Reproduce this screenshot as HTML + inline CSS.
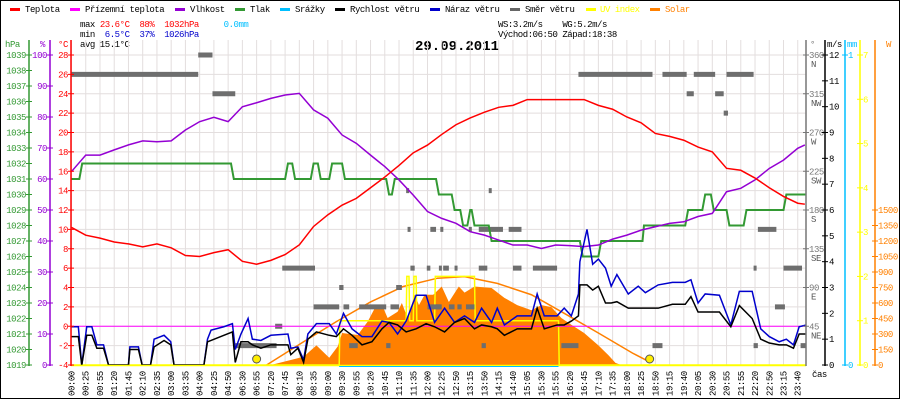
<!DOCTYPE html>
<html><head><meta charset="utf-8"><style>
html,body{margin:0;padding:0;background:#fff}
svg{display:block}
text{font-family:"Liberation Mono",monospace;font-size:9px;letter-spacing:-0.45px}
</style></head><body>
<svg id="c" width="900" height="400" viewBox="0 0 900 400" xmlns="http://www.w3.org/2000/svg">
<rect x="0.5" y="0.5" width="899" height="398" fill="#fff" stroke="#000"/>
<g>
<g><rect x="10" y="8" width="10" height="3" fill="#ff0000"/><text x="25" y="12">Teplota</text></g>
<g><rect x="70" y="8" width="10" height="3" fill="#ff00ff"/><text x="85" y="12">Přízemní teplota</text></g>
<g><rect x="175" y="8" width="10" height="3" fill="#9400d3"/><text x="190" y="12">Vlhkost</text></g>
<g><rect x="235" y="8" width="10" height="3" fill="#339933"/><text x="250" y="12">Tlak</text></g>
<g><rect x="280" y="8" width="10" height="3" fill="#00bfff"/><text x="295" y="12">Srážky</text></g>
<g><rect x="335" y="8" width="10" height="3" fill="#000"/><text x="350" y="12">Rychlost větru</text></g>
<g><rect x="430" y="8" width="10" height="3" fill="#0000cc"/><text x="445" y="12">Náraz větru</text></g>
<g><rect x="510" y="8" width="10" height="3" fill="#666"/><text x="525" y="12">Směr větru</text></g>
<g><rect x="586" y="8" width="10" height="3" fill="#ffff00"/><text x="600" y="12" fill="#ffff00">UV index</text></g>
<g><rect x="650" y="8" width="10" height="3" fill="#ff8000"/><text x="665" y="12" fill="#ff8000">Solar</text></g>
</g>
<g>
<text x="80" y="27" xml:space="preserve">max <tspan fill="#ff0000">23.6°C</tspan>  <tspan fill="#ff0000">88%</tspan>  <tspan fill="#ff0000">1032hPa</tspan>     <tspan fill="#00bfff">0.0mm</tspan></text>
<text x="80" y="37" xml:space="preserve">min  <tspan fill="#0000cc">6.5°C</tspan>  <tspan fill="#0000cc">37%</tspan>  <tspan fill="#0000cc">1026hPa</tspan></text>
<text x="80" y="47">avg 15.1°C</text>
<text x="498" y="27" xml:space="preserve">WS:3.2m/s    WG:5.2m/s</text>
<text x="498" y="37" xml:space="preserve">Východ:06:50 Západ:18:38</text>
</g>
<text x="457" y="50" text-anchor="middle" style="font-size:14px;font-weight:bold;letter-spacing:0">29.09.2011</text>
<g id="plot"></g>
</svg>
<script>
const timeLabels=["00:00","00:25","00:55","01:20","01:45","02:10","02:35","03:00","03:35","04:00","04:25","04:50","06:30","06:55","07:20","07:45","08:10","08:35","09:00","09:30","09:55","10:20","10:45","11:10","11:35","12:00","12:25","12:50","13:15","13:50","14:15","14:40","15:05","15:30","15:55","16:20","16:45","17:10","17:35","18:00","18:25","18:50","19:15","19:40","20:05","20:30","20:55","21:55","22:20","22:50","23:15","23:40"];
const tempVals=[10.2,9.4,9.1,8.7,8.5,8.2,8.5,8.1,7.3,7.2,7.6,7.9,6.7,6.4,6.8,7.4,8.4,10.3,11.5,12.5,13.2,14.3,15.4,16.6,17.9,18.7,19.8,20.8,21.5,22.1,22.6,22.8,23.4,23.4,23.4,23.4,23.4,22.8,22.4,21.6,21.0,19.9,19.6,19.2,18.5,18.0,16.3,16.1,15.3,14.3,13.4,12.7,12.6];
const humVals=[62.4,67.7,67.7,69.4,71,72.3,72,72.3,75.8,78.5,79.9,78.5,83.3,84.6,86,87.1,87.6,82.3,79.6,74.2,71.5,67.7,64,59.7,54.8,49.5,47.3,45.7,43,41.9,40.3,38.7,38.7,37.6,38.7,38.5,38.2,38.7,40.6,41.9,43.5,44.6,45.7,46.2,47.9,48.9,55.9,57,59.7,63.4,66.1,69.9,71];
const groundTemp=0;
const pStart=[0,0.75,11.4,15.2,15.7,17.0,17.5,18.3,19.2,22.3,22.7,25.8,26.9,27.5,28.0,28.3,29.5,35.9,37.2,40.2,43.3,44.5,45.1,46.2,47.4,50.2];
const pEnd=[0.55,11.2,15.0,15.5,16.8,17.3,18.1,19.0,22.1,22.5,25.6,26.7,27.3,27.8,28.1,29.3,35.7,37.0,40.1,43.1,44.3,44.9,46.0,47.2,50.0,51.6];
const pVal=[1031,1032,1031,1032,1031,1032,1031,1032,1031,1030,1031,1030,1029,1028,1029,1028,1027,1026,1027,1028,1029,1030,1029,1028,1029,1030];
const windT=[0,0.48,0.72,1.07,1.43,1.78,2.25,2.6,4.0,4.1,4.7,4.96,5.55,5.8,6.5,6.97,7.2,9.3,9.55,9.8,10.7,11.3,11.5,11.9,12.4,12.7,13.3,14.0,15.2,15.4,15.9,16.3,16.6,17.2,18.1,18.6,19.1,19.7,20.4,21.1,21.8,22.3,22.9,23.5,24.2,24.9,25.5,26.2,26.9,27.6,28.3,28.8,29.5,29.9,30.4,31.3,32.3,32.7,33.2,34.1,34.6,35.1,35.6,35.7,36.2,36.6,37.0,37.5,37.9,38.3,39.1,39.8,40.3,41.2,42.2,43.1,43.5,44.0,44.5,45.5,46.3,46.9,47.8,48.4,49.0,49.7,50.2,50.7,51.1,51.6];
const windGust=[1.48,1.48,0,1.48,1.48,0.78,0.78,0,0,0.7,0.7,0,0,1.0,1.15,0.9,0,0,1.0,1.35,1.48,1.6,0.6,1.2,1.8,1.0,0.95,1.15,1.2,0.65,0.7,0.2,1.2,1.6,1.6,1.2,2.0,1.4,1.1,1.1,1.7,1.65,1.2,1.7,2.7,2.7,1.65,2.2,1.65,1.9,1.65,2.2,1.65,2.2,1.55,1.9,1.9,2.75,1.9,1.9,2.2,1.9,2.75,4.0,5.25,3.9,4.1,3.75,3.05,3.5,2.75,3.05,2.8,3.1,3.2,3.2,3.3,2.4,2.75,2.7,1.55,2.85,2.85,1.4,1.1,0.9,1.0,0.78,1.48,1.55];
const windSpeed=[1.1,1.1,0,1.15,1.15,0.65,0.65,0,0,0.6,0.6,0,0,0.7,0.95,0.78,0,0,0.9,0.95,1.15,1.28,0.1,0.9,0.9,0.78,0.65,0.78,0.78,0.4,0.65,0.1,1.0,1.28,1.15,1.1,1.4,1.15,0.78,0.9,1.4,1.65,1.55,1.28,1.4,1.6,1.48,1.28,1.65,1.8,1.4,1.55,1.48,1.4,1.15,1.4,1.4,2.2,1.4,1.55,1.55,1.7,1.9,3.1,3.1,2.9,3.05,2.4,2.4,2.45,2.2,2.2,2.2,2.2,2.35,2.35,2.65,2.05,2.05,2.05,1.48,2.3,1.8,1.0,0.85,0.78,0.78,0.65,1.2,1.2];
const solT=[14.0,16.3,17.2,18.1,18.7,19.0,20.1,20.8,21.3,21.9,22.2,22.9,23.2,23.6,24.1,24.4,24.8,25.4,26.0,26.5,27.2,27.6,28.3,29.5,30.4,31.3,32.3,33.0,33.7,34.4,35.1,36.0,37.0,37.7,38.2,38.6];
const solW=[0,80,190,70,180,310,290,420,550,550,455,515,600,455,680,580,680,680,760,610,760,700,760,745,650,580,530,580,560,455,390,310,190,95,20,0];
const solMaxT=[13.7,16.3,18.6,21.0,23.3,25.7,27.6,29.9,32.3,34.6,37.0,39.4,40.6];
const solMaxW=[0,225,420,610,760,840,855,790,680,500,310,115,30];
const uvStart=[0,18.85,23.55,23.75,24.05,24.25,25.55,28.35,34.25];
const uvEnd=[18.8,23.5,23.7,24.0,24.2,25.5,28.3,34.2,51.6];
const uvVal=[0,1,2,1,2,1,2,1,0];
const dirStart=[-0.05,8.9,9.9,14.8,18.8,17.0,19.1,20.2,22.4,25.0,14.3,11.5,19.5,22.1,23.5,23.6,25.9,23.8,25.8,22.8,35.6,41.5,43.7,46.0,43.2,45.2,45.8,29.3,25.2,27.9,28.6,30.7,48.2,24.95,26.1,26.9,28.6,31.0,32.4,47.9,50.0,25.6,26.5,27.1,27.7,49.4,28.8,34.4,40.8,47.9,51.2];
const dirEnd=[8.9,9.9,11.5,17.1,19.1,18.8,19.5,22.1,23.0,26.0,14.8,14.4,20.1,22.4,23.7,23.8,26.1,24.1,26.0,23.2,40.8,43.2,45.2,47.9,43.7,45.8,46.1,29.5,25.6,28.1,30.3,31.6,49.5,25.2,26.5,27.1,29.2,31.6,34.1,48.1,51.3,25.9,26.9,27.4,28.3,50.1,29.1,35.6,41.5,48.2,51.6];
const dirDeg=[337.5,360,315,112.5,90,67.5,67.5,67.5,67.5,67.5,45,22.5,22.5,22.5,202.5,157.5,157.5,112.5,112.5,90,337.5,337.5,337.5,337.5,315,315,292.5,202.5,157.5,157.5,157.5,157.5,157.5,112.5,112.5,112.5,112.5,112.5,112.5,112.5,112.5,67.5,67.5,67.5,67.5,67.5,22.5,22.5,22.5,22.5,22.5];
const hpaTicks=[1039,1038,1037,1036,1035,1034,1033,1032,1031,1030,1029,1028,1027,1026,1025,1024,1023,1022,1021,1020,1019];
const humTicks=[100,90,80,70,60,50,40,30,20,10,0];
const tempTicks=[28,26,24,22,20,18,16,14,12,10,8,6,4,2,0,-2,-4];
const dirTicks=[360,315,270,225,180,135,90,45];
const dirNames=["N","NW","W","SW","S","SE","E","NE"];
const msTicks=[12,11,10,9,8,7,6,5,4,3,2,1,0];
const uvTicks=[7,6,5,4,3,2,1,0];
const wTicks=[1500,1350,1200,1050,900,750,600,450,300,150,0];
const sunrise=13.0, sunset=40.6;

const X=i=>71.5+i*14.24;
const yT=t=>55+(28-t)*9.6875;
const yH=h=>55+(100-h)*3.1;
const yP=p=>55+(1039-p)*15.5;
const yW=v=>365-v*25.833;
const yD=d=>365-d*310/360;
const yS=w=>365-w*310/3000;
const yU=u=>365-u*310/7;
const NS="http://www.w3.org/2000/svg";
const plot=document.getElementById('plot');
function mk(tag,attrs,parent){const e=document.createElementNS(NS,tag);for(const k in attrs)e.setAttribute(k,attrs[k]);(parent||plot).appendChild(e);return e;}
function grp(name){const g=mk('g',{});


return g;}

const grid=grp('grid');
timeLabels.forEach((l,i)=>{mk('line',{x1:X(i),x2:X(i),y1:40,y2:365,stroke:'#e3dede','stroke-width':1},grid);});
tempTicks.forEach(t=>{mk('line',{x1:71,x2:806,y1:yT(t),y2:yT(t),stroke:'#e3dede','stroke-width':1},grid);});

const solG=grp('solar-area');
let d='M'+X(solT[0])+','+yS(0);
solT.forEach((t,k)=>{d+=' L'+X(t)+','+yS(solW[k]);});
d+=' L'+X(solT[solT.length-1])+','+yS(0)+' Z';
const sa=mk('path',{d:d,fill:'#ff8000',stroke:'none'},solG);


let d2='';solMaxT.forEach((t,k)=>{d2+=(k?' L':'M')+X(t)+','+yS(solMaxW[k]);});
const sm=mk('path',{d:d2,fill:'none',stroke:'#ff8000','stroke-width':1.5},solG);



const uvG=grp('uv-index-series');
let d3='';uvStart.forEach((s,k)=>{d3+=(k?' L':'M')+X(s)+','+yU(uvVal[k])+' L'+X(uvEnd[k])+','+yU(uvVal[k]);});
mk('path',{d:d3,fill:'none',stroke:'#ffff00','stroke-width':1.5},uvG);
const rain=mk('line',{x1:X(18.8),x2:X(34.2),y1:366,y2:366,stroke:'#00bfff','stroke-width':1.5},uvG);



const dirG=grp('wind-direction-series');
dirStart.forEach((s,k)=>{const r=mk('rect',{x:X(s),y:yD(dirDeg[k])-2.5,width:Math.max(3,X(dirEnd[k])-X(s)),height:5,fill:'#6e6e6e'},dirG);

});

const pG=grp('pressure-series');
let d4='';pStart.forEach((s,k)=>{d4+=(k?' L':'M')+X(s)+','+yP(pVal[k])+' L'+X(pEnd[k])+','+yP(pVal[k]);});
mk('path',{d:d4,fill:'none',stroke:'#339933','stroke-width':2},pG);

function line(vals,fy,color,name,w){const g=grp(name);let p='';vals.forEach((v,i)=>{const xi=i<52?i:51.5;p+=(i?' L':'M')+X(xi)+','+fy(v);});mk('path',{d:p,fill:'none',stroke:color,'stroke-width':w||1.5},g);}
line(humVals,yH,'#9400d3','humidity-series');
line(tempVals,yT,'#ff0000','temperature-series');
const gl=grp('ground-temperature-series');
mk('line',{x1:71,x2:806,y1:yT(groundTemp),y2:yT(groundTemp),stroke:'#ff00ff','stroke-width':1},gl);

function wline(vals,color,name){const g=grp(name);let p='';windT.forEach((t,k)=>{p+=(k?' L':'M')+X(t)+','+yW(vals[k]);});mk('path',{d:p,fill:'none',stroke:color,'stroke-width':1.5},g);}
wline(windGust,'#0000cc','wind-gust-series');
wline(windSpeed,'#000000','wind-speed-series');

const sr=mk('circle',{cx:X(sunrise),cy:359,r:4,fill:'#ffee00',stroke:'#555','stroke-width':1});


const ss=mk('circle',{cx:X(sunset),cy:359,r:4,fill:'#ffee00',stroke:'#555','stroke-width':1});


mk('line',{x1:71,x2:806,y1:365.5,y2:365.5,stroke:'#ffff00','stroke-width':1.5});
mk('line',{x1:X(18.8),x2:X(34.2),y1:366.5,y2:366.5,stroke:'#00bfff','stroke-width':1});

function axis(name,x,color,ticks,fy,labelX,anchor,top){const g=grp(name);
mk('line',{x1:x,x2:x,y1:top||40,y2:366,stroke:color,'stroke-width':1.5},g);
ticks.forEach(t=>{const y=fy(t);mk('line',{x1:x-3,x2:x+3,y1:y,y2:y,stroke:color,'stroke-width':1},g);
const tx=mk('text',{x:labelX,y:y+3,fill:color,'text-anchor':anchor},g);tx.textContent=t;});return g;}
axis('hpa-axis',29,'#339933',hpaTicks,yP,26,'end');
axis('humidity-axis',50,'#9400d3',humTicks,yH,47,'end');
axis('temperature-axis',71,'#ff0000',tempTicks,yT,68,'end');
const dg=axis('direction-axis',806,'#777',dirTicks,yD,809,'start');
dirTicks.forEach((t,k)=>{const tx=mk('text',{x:811,y:yD(t)+12,fill:'#555'},dg);tx.textContent=dirNames[k];});
axis('wind-speed-axis',825,'#000',msTicks,yW,829,'start');
axis('rain-axis',845,'#00bfff',[1,0],v=>365-v*310,848,'start');
axis('uv-axis',860,'#ffff00',uvTicks,yU,863,'start');
axis('solar-axis',875,'#ff8000',wTicks,yS,878,'start');

const hdr=grp('axis-units');
[['hPa',5,'#339933'],['%',40,'#9400d3'],['°C',58,'#ff0000'],['°',810,'#777'],['m/s',827,'#000'],['mm',847,'#00bfff'],['W',886,'#ff8000']].forEach(a=>{const t=mk('text',{x:a[1],y:47,fill:a[2]},hdr);t.textContent=a[0];});

const xg=grp('x-axis');
timeLabels.forEach((l,i)=>{const t=mk('text',{x:0,y:0,transform:'translate('+(X(i)+3)+',396) rotate(-90)'},xg);t.textContent=l;

});
const cas=mk('text',{x:812,y:377},xg);cas.textContent='čas';
</script>
</body></html>
